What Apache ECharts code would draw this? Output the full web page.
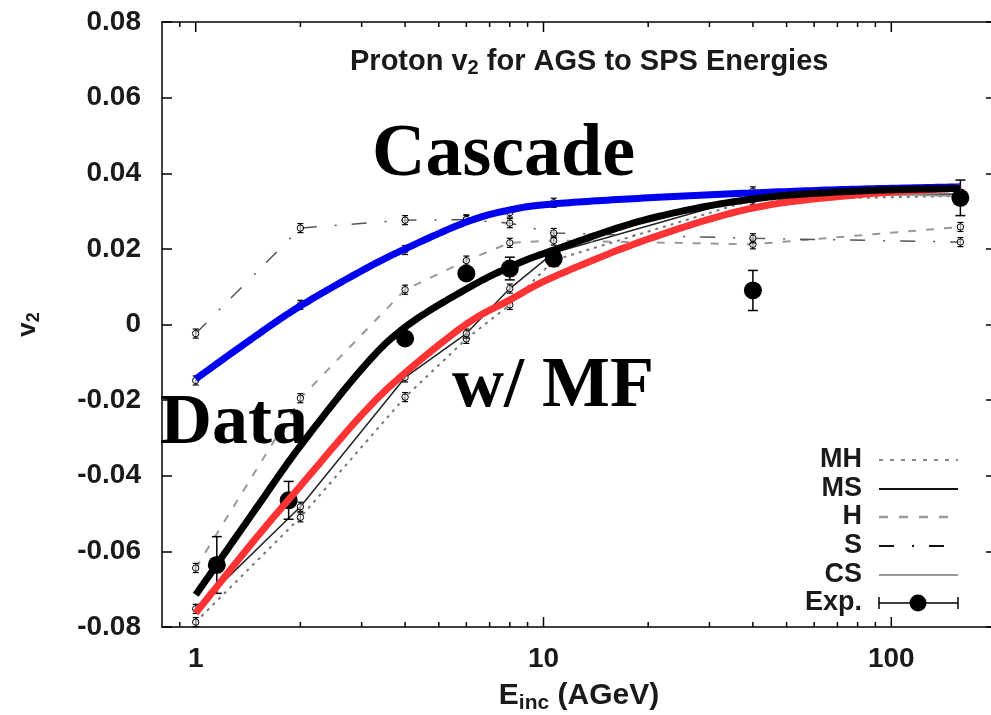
<!DOCTYPE html>
<html><head><meta charset="utf-8">
<script src="https://cdn.jsdelivr.net/npm/echarts@6/dist/echarts.min.js"></script>
<style>html,body{margin:0;padding:0;background:#fff}#c{width:991px;height:715px}</style>
</head><body><div id="c"></div>
<script>
// ---- data ----
const energies = [1, 2, 4, 6, 8, 10.7, 40, 158];
const modelMH = [-0.0787, -0.0510, -0.0192, -0.0038, 0.0052, 0.0170, 0.0330, 0.0340];
const modelMS = [-0.0752, -0.0482, -0.0140, -0.0024, 0.0095, 0.0190, 0.0340, 0.0345];
const modelH  = [-0.0644, -0.0195, 0.0092, 0.0169, 0.0216, 0.0222, 0.0212, 0.0258];
const modelS  = [-0.0024, 0.0255, 0.0276, 0.0277, 0.0268, 0.0242, 0.0228, 0.0218];
const modelCS = [-0.0148, 0.0052, 0.0197, 0.0278, 0.0296, 0.0322, 0.0352, 0.0340];
const modelErr = 0.0012;

const expE   = [1.15, 1.85, 4, 6, 8, 10.7, 40, 158];
const expV   = [-0.0636, -0.0465, -0.0037, 0.0135, 0.0148, 0.0174, 0.0090, 0.0335];
const expErr = [0.0075, 0.0050, 0.0012, 0.0015, 0.0030, 0.0020, 0.0053, 0.0047];

const curveE       = [1, 1.5, 2, 3, 4, 6, 8, 10.7, 20, 40, 80, 158];
const cascadeCurve = [-0.0144, -0.0028, 0.0049, 0.0142, 0.0200, 0.0271, 0.0303, 0.0319, 0.0335, 0.0348, 0.0358, 0.0364];
const dataCurve    = [-0.0715, -0.0483, -0.0321, -0.0118, -0.0007, 0.0094, 0.0152, 0.0197, 0.0279, 0.0332, 0.0353, 0.0360];
const mfCurve      = [-0.0763, -0.0562, -0.0427, -0.0239, -0.0128, 0.0001, 0.0065, 0.0126, 0.0226, 0.0308, 0.0343, 0.0361];

const xMajorTicks = [1, 10, 100];
const xMinorTicks = [0.9, 2, 3, 4, 5, 6, 7, 8, 9, 20, 30, 40, 50, 60, 70, 80, 90];
const xTickLabels = ['1', '10', '100'];

// ---- helpers ----
const SANS = '"Liberation Sans", Arial, sans-serif';
const SERIF = '"Liberation Serif", "Times New Roman", serif';
const TXT = '#1a1a1a';
const zip = (xs, ys) => xs.map((x, i) => [x, ys[i]]);

function errRender(capHalf, lineW, dotR, openR) {
  return function (params, api) {
    const x = api.value(0), y = api.value(1), e = api.value(2);
    const c = api.coord([x, y]);
    const t = api.coord([x, y + e]);
    const b = api.coord([x, y - e]);
    const st = { stroke: '#000', lineWidth: lineW };
    const ch = [
      { type: 'line', shape: { x1: c[0], y1: t[1], x2: c[0], y2: b[1] }, style: st },
      { type: 'line', shape: { x1: c[0] - capHalf, y1: t[1], x2: c[0] + capHalf, y2: t[1] }, style: st },
      { type: 'line', shape: { x1: c[0] - capHalf, y1: b[1], x2: c[0] + capHalf, y2: b[1] }, style: st }
    ];
    if (dotR) ch.push({ type: 'circle', shape: { cx: c[0], cy: c[1], r: dotR }, style: { fill: '#000' } });
    if (openR) ch.push({ type: 'circle', shape: { cx: c[0], cy: c[1], r: openR }, style: { fill: 'rgba(255,255,255,0.6)', stroke: '#000', lineWidth: 1 } });
    return { type: 'group', children: ch };
  };
}

// Catmull-Rom spline through pixel points (rendering only)
function spline(pts, n) {
  const out = [pts[0]];
  const L = pts.length;
  for (let i = 0; i < L - 1; i++) {
    const p0 = pts[Math.max(i - 1, 0)], p1 = pts[i], p2 = pts[i + 1], p3 = pts[Math.min(i + 2, L - 1)];
    for (let k = 1; k <= n; k++) {
      const s = k / n, s2 = s * s, s3 = s2 * s;
      const f = d => 0.5 * (2 * p1[d] + (-p0[d] + p2[d]) * s + (2 * p0[d] - 5 * p1[d] + 4 * p2[d] - p3[d]) * s2 + (-p0[d] + 3 * p1[d] - 3 * p2[d] + p3[d]) * s3);
      out.push([f(0), f(1)]);
    }
  }
  return out;
}

const modelPts = [];
[modelMH, modelMS, modelH, modelS, modelCS].forEach(arr => arr.forEach((v, i) => modelPts.push([energies[i], v, modelErr])));
const expPts = expE.map((e, i) => [e, expV[i], expErr[i]]);
const tickData = xMajorTicks.map(v => [v, 10]).concat(xMinorTicks.map(v => [v, 5]));

const isPow10 = v => Math.abs(Math.log10(v) - Math.round(Math.log10(v))) < 1e-6;

const chart = echarts.init(document.getElementById('c'), null, { renderer: 'canvas' });

const legendY = [460, 489, 517, 546, 575, 603];
const legendNames = ['MH', 'MS', 'H', 'S', 'CS', 'Exp.'];
const graphics = [];
legendNames.forEach((n, i) => graphics.push({
  type: 'text', z: 50,
  style: { text: n, x: 862, y: legendY[i], align: 'right', verticalAlign: 'middle', font: 'bold 27px ' + SANS, fill: TXT }
}));
const lgStyles = [
  { stroke: '#888', lineWidth: 2, lineDash: [4, 7] },
  { stroke: '#111', lineWidth: 2 },
  { stroke: '#999', lineWidth: 2.5, lineDash: [9, 11] },
  { stroke: '#111', lineWidth: 2, lineDash: [15, 18, 2, 15] },
  { stroke: '#999', lineWidth: 2 }
];
lgStyles.forEach((s, i) => graphics.push({ type: 'line', z: 50, shape: { x1: 879, y1: legendY[i], x2: 958, y2: legendY[i] }, style: s }));
graphics.push({ type: 'line', z: 50, shape: { x1: 879, y1: 603, x2: 958, y2: 603 }, style: { stroke: '#000', lineWidth: 1.5 } });
graphics.push({ type: 'line', z: 50, shape: { x1: 879, y1: 597, x2: 879, y2: 609 }, style: { stroke: '#000', lineWidth: 1.5 } });
graphics.push({ type: 'line', z: 50, shape: { x1: 958, y1: 597, x2: 958, y2: 609 }, style: { stroke: '#000', lineWidth: 1.5 } });
graphics.push({ type: 'circle', z: 50, shape: { cx: 918, cy: 603, r: 8.5 }, style: { fill: '#000' } });

// overlay annotations
graphics.push({ type: 'text', z: 60, style: { text: 'Cascade', x: 372, y: 156, align: 'left', verticalAlign: 'middle', font: 'bold 74px ' + SERIF, fill: '#000' } });
graphics.push({ type: 'text', z: 60, style: { text: 'Data', x: 160, y: 424, align: 'left', verticalAlign: 'middle', font: 'bold 72px ' + SERIF, fill: '#000' } });
graphics.push({ type: 'text', z: 60, style: { text: 'w/ MF', x: 452, y: 387, align: 'left', verticalAlign: 'middle', font: 'bold 72px ' + SERIF, fill: '#000' } });

const lineSeries = (name, arr, style) => ({
  name, type: 'line', data: zip(energies, arr), symbol: 'none', z: 2,
  lineStyle: style, silent: true, animation: false
});

const subRich = (size, sub, pad) => ({
  a: { fontFamily: SANS, fontSize: size, fontWeight: 'bold', color: TXT, lineHeight: size + 6, verticalAlign: 'middle' },
  s: { fontFamily: SANS, fontSize: sub, fontWeight: 'bold', color: TXT, lineHeight: sub, padding: [pad, 0, 0, 0], verticalAlign: 'middle' }
});

const thick = (name, arr, color, z) => ({
  name, type: 'custom', data: [[curveE[0], arr[0]]], silent: true, z, clip: false,
  renderItem: (params, api) => {
    const pts = curveE.map((e, i) => api.coord([e, arr[i]]));
    return {
      type: 'polyline',
      shape: { points: spline(pts, 20) },
      style: { stroke: color, lineWidth: 7, fill: null, lineCap: 'butt', lineJoin: 'round' }
    };
  }
});

const option = {
  animation: false,
  backgroundColor: '#fff',
  title: {
    text: '{a|Proton v}{s|2}{a| for AGS to SPS Energies}',
    left: 345, top: 39,
    textStyle: { rich: subRich(29, 20, 14) }
  },
  grid: { left: 162, right: -5, top: 22, bottom: 88, containLabel: false, outerBoundsMode: 'none' },
  xAxis: [{
    type: 'log', logBase: 10, min: 0.8, max: 200, position: 'bottom',
    axisLine: { show: true, onZero: false, lineStyle: { color: '#000', width: 1.5 } },
    axisTick: { show: false }, minorTick: { show: false }, splitLine: { show: false },
    axisLabel: {
      showMinLabel: false, showMaxLabel: false, margin: 18,
      formatter: v => isPow10(v) ? xTickLabels[xMajorTicks.indexOf(Math.round(v))] || '' : '',
      fontFamily: SANS, fontSize: 28, fontWeight: 'bold', color: TXT
    },
    name: '{a|E}{s|inc}{a| (AGeV)}', nameLocation: 'middle', nameGap: 44,
    nameTextStyle: { rich: subRich(30, 21, 15) }
  }, {
    type: 'log', logBase: 10, min: 0.8, max: 200, position: 'top',
    axisLine: { show: true, onZero: false, lineStyle: { color: '#000', width: 1.5 } },
    axisTick: { show: false }, axisLabel: { show: false }, splitLine: { show: false }
  }],
  yAxis: [{
    type: 'value', min: -0.08, max: 0.08, interval: 0.02, position: 'left',
    axisLine: { show: true, onZero: false, lineStyle: { color: '#000', width: 1.5 } },
    axisTick: { show: true, inside: true, length: 10, lineStyle: { color: '#000', width: 1.5 } },
    splitLine: { show: false },
    axisLabel: {
      margin: 21, fontFamily: SANS, fontSize: 28, fontWeight: 'bold', color: TXT,
      formatter: v => Math.abs(v) < 1e-9 ? '0' : v.toFixed(2)
    },
    name: '{a|v}{s|2}', nameLocation: 'middle', nameRotate: 90, nameGap: 118,
    nameTextStyle: { rich: subRich(26, 18, 13) }
  }, {
    type: 'value', min: -0.08, max: 0.08, interval: 0.02, position: 'right',
    axisLine: { show: true, onZero: false, lineStyle: { color: '#000', width: 1.5 } },
    axisTick: { show: true, inside: true, length: 10, lineStyle: { color: '#000', width: 1.5 } },
    axisLabel: { show: false }, splitLine: { show: false }
  }],
  series: [
    {
      name: 'xticks', type: 'custom', data: tickData, clip: false, silent: true, z: 1,
      renderItem: (params, api) => {
        const x = api.value(0), len = api.value(1);
        const b = api.coord([x, -0.08]), t = api.coord([x, 0.08]);
        const st = { stroke: '#000', lineWidth: 1.5 };
        return { type: 'group', children: [
          { type: 'line', shape: { x1: b[0], y1: b[1], x2: b[0], y2: b[1] - len }, style: st },
          { type: 'line', shape: { x1: t[0], y1: t[1], x2: t[0], y2: t[1] + len }, style: st }
        ] };
      }
    },
    lineSeries('MH', modelMH, { color: '#777', width: 2, type: [3, 5] }),
    lineSeries('MS', modelMS, { color: '#222', width: 1.5 }),
    lineSeries('H', modelH, { color: '#999', width: 2, type: [8, 10] }),
    lineSeries('S', modelS, { color: '#555', width: 1.5, type: [15, 18, 2, 15] }),
    lineSeries('CS', modelCS, { color: '#999', width: 2 }),
    {
      name: 'modelPoints', type: 'custom', data: modelPts, silent: true, z: 3,
      renderItem: errRender(3, 1.2, 0, 3.2)
    },
    {
      name: 'Exp.', type: 'custom', data: expPts, silent: true, z: 4,
      renderItem: errRender(5, 1.5, 9, 0)
    },
    thick('Cascade', cascadeCurve, '#0000f0', 10),
    thick('w/ MF', mfCurve, '#ff3333', 11),
    thick('Data', dataCurve, '#000', 12)
  ],
  graphic: graphics
};
chart.setOption(option);
</script></body></html>
